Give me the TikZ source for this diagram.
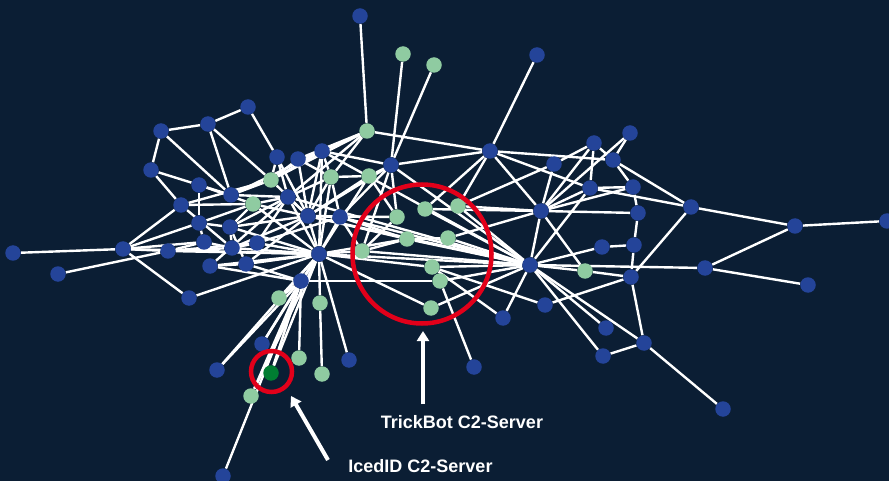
\documentclass[tikz,border=0pt]{standalone}
\usepackage{fontspec}
\setmainfont{Liberation Sans}
\usetikzlibrary{arrows.meta}
\definecolor{bgcol}{RGB}{11,30,52}
\definecolor{bluecol}{RGB}{36,68,153}
\definecolor{ltgreen}{RGB}{143,203,161}
\definecolor{dkgreen}{RGB}{0,125,50}
\definecolor{ringred}{RGB}{226,0,26}
\pgfdeclarelayer{bglayer}
\pgfdeclarelayer{edgelayer}
\pgfsetlayers{bglayer,edgelayer,main}
\tikzset{
  bnode/.style={circle,fill=bluecol,inner sep=0pt,minimum size=15.5pt},
  gnode/.style={circle,fill=ltgreen,inner sep=0pt,minimum size=15.5pt},
  dnode/.style={circle,fill=dkgreen,inner sep=0pt,minimum size=15.5pt},
  edge/.style={draw=white,line width=2.4pt},
  ring/.style={circle,draw=ringred,line width=4.5pt,inner sep=0pt},
  pointer/.style={draw=white,line width=4pt,-{Triangle[length=10pt,width=12pt]}},
  label/.style={text=white,font=\bfseries\fontsize{18}{21}\selectfont,inner sep=0pt}
}
\begin{document}
\begin{tikzpicture}[x=1pt,y=-1pt]
\useasboundingbox (0,0) rectangle (889,481);
\begin{pgfonlayer}{bglayer}
\fill[bgcol] (0,0) rectangle (889,481);
\end{pgfonlayer}
% blue nodes
\foreach \n/\x/\y in {a1/360/16,a2/537/55,a3/161/131,a4/208/124,a5/248/107,a6/151/170,a7/199/185,a8/231/195,a9/181/205,a10/277/157,a11/298/159,a12/288/197,a13/199/223,a14/230/227,a15/322/151,a16/391/165,a17/490/151,a18/554/164,a19/594/143,a20/630/133,a21/613/160,a22/590/188,a23/633/187,a24/638/213,a25/691/207,a26/795/226,a27/887/221,a28/541/211,a29/634/245,a30/602/247,a31/530/265,a32/631/277,a33/705/268,a34/808/285,a35/545/305,a36/503/318,a37/606/328,a38/644/343,a39/603/356,a40/723/409,a41/13/253,a42/58/274,a43/123/249,a44/168/251,a45/204/242,a46/232/248,a47/257/243,a48/210/266,a49/246/264,a50/189/298,a51/301/281,a52/319/254,a53/308/216,a55/340/217,a57/262/344,a58/217/370,a59/223/476,a60/349/360,a61/474/367}
  \node[bnode] (\n) at (\x,\y) {};
% light green nodes
\foreach \n/\x/\y in {g1/403/54,g2/434/65,g3/367/131,g4/331/177,g5/369/176,g6/271/180,g7/253/204,g8/397/217,g9/425/209,g10/458/206,g11/407/239,g12/448/238,g13/362/251,g14/432/267,g15/440/281,g16/431/308,g17/585/271,g18/279/298,g19/320/303,g20/299/358,g21/322/374,g22/251/396}
  \node[gnode] (\n) at (\x,\y) {};
\node[dnode] (dg) at (271,373) {};
% edges
\begin{pgfonlayer}{edgelayer}
\foreach \s/\t in {a41/a43,a42/a44,a43/a44,a43/a50,a43/a13,a43/a9,a43/a45,a43/a52,a44/a45,a44/a46,a44/a52,a44/a47,a45/a46,a45/a13,a46/a47,a46/a52,a46/a53,a46/a14,a47/a52,a47/a55,a47/a12,a48/a49,a48/a52,a48/a12,a49/a52,a49/a53,a49/a14,a50/a52,a13/a14,a13/g7,a13/a7,a14/a12,a14/g7,a14/a53,a14/a52,a3/a4,a3/a6,a3/a8,a4/a5,a4/a8,a4/g6,a5/a10,a6/a7,a6/a9,a7/a8,a7/g7,a8/g6,a8/a12,a8/a15,a9/g7,a9/g6,a9/a46,a10/g6,a10/a12,a10/a53,a11/g6,a11/a15,a11/g3,a11/a53,a11/g4,a12/a53,a12/a52,a12/g7,a12/g4,a12/a31,g6/a15,g6/a53,g7/a53,g7/a52,a15/g3,a15/g4,a15/a16,a15/a53,a15/a31,a15/a52,g3/g4,g3/a12,g3/a17,g3/a1,g3/g6,g4/a53,g4/g5,g4/a52,g4/a55,g5/a16,g5/a53,g5/a52,g5/g8,a16/a53,a16/g8,a16/g13,a16/a31,a16/a17,a16/g1,a16/g2,a16/a55,a53/a55,a53/a52,a53/a31,a53/g11,a53/g8,a55/a52,a55/g8,a55/g11,a55/a31,a55/g13,a52/g13,a52/a31,a52/g14,a52/g16,a52/g11,a52/a51,a52/g18,a52/g19,a52/a57,a52/a58,a52/dg,a52/a60,a52/g22,a51/g18,a51/a57,a51/a58,a51/dg,a51/g22,a51/a59,a51/g20,a51/g15,a51/a49,a51/a48,g19/g21,g13/a31,g13/g11,g13/g8,g9/a17,g9/a28,g9/a31,g10/a17,g10/a28,g10/a18,g10/a31,g11/a31,g11/g12,g12/a31,g12/a28,g14/a31,g14/a36,g15/a31,g15/a61,g16/a31,g14/a35,a17/a28,a17/a21,a17/a22,a17/a2,a18/a19,a18/a28,a19/a21,a19/a22,a19/a28,a20/a21,a20/a28,a21/a23,a21/a25,a22/a23,a22/a28,a22/a25,a23/a24,a23/a28,a24/a28,a24/a29,a25/a26,a25/a32,a26/a27,a26/a33,a33/a34,a31/a33,a31/a28,a31/a30,a31/g17,a31/a22,a31/a36,a31/a37,a31/a38,a31/a39,a28/g17,g17/a32,a29/a30,a29/a32,a35/a32,a32/a38,a38/a39,a38/a40}
  \draw[edge] (\s) -- (\t);
\end{pgfonlayer}
% rings
\node[ring,minimum size=139pt] (bigring) at (422,254) {};
\node[ring,minimum size=41pt] (smallring) at (271.5,371.5) {};
% pointers and labels
\coordinate (tbtail) at (423,404);
\coordinate (tbtip) at (423,331);
\draw[pointer] (tbtail) -- (tbtip);
\coordinate (idtail) at (328,460);
\coordinate (idtip) at (291,396);
\draw[pointer] (idtail) -- (idtip);
\node[label] (tblabel) at (462,422) {TrickBot C2-Server};
\node[label] (idlabel) at (420.5,466.5) {IcedID C2-Server};
\end{tikzpicture}
\end{document}
